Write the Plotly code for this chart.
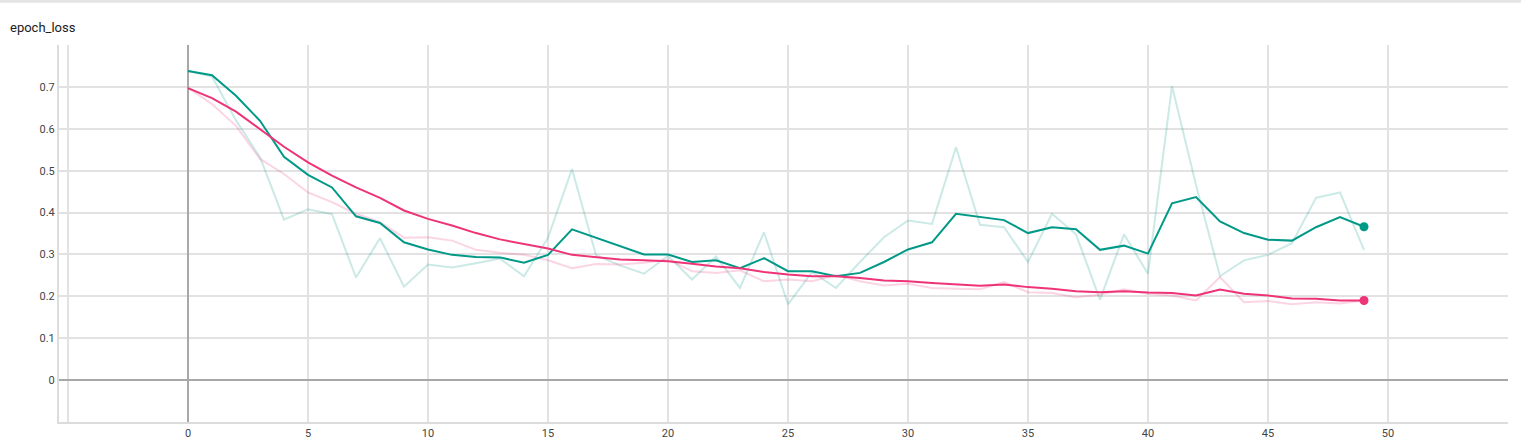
import plotly.graph_objects as go

epochs = list(range(50))

green_raw = [0.738, 0.725, 0.62, 0.532, 0.383, 0.408, 0.396, 0.245, 0.339, 0.223,
             0.276, 0.269, 0.279, 0.290, 0.248, 0.340, 0.504, 0.298, 0.274, 0.254,
             0.297, 0.240, 0.295, 0.220, 0.353, 0.181, 0.258, 0.220, 0.282, 0.341,
             0.381, 0.373, 0.556, 0.371, 0.365, 0.282, 0.397, 0.348, 0.192, 0.348,
             0.254, 0.702, 0.466, 0.248, 0.286, 0.299, 0.327, 0.435, 0.448, 0.311]

green_smooth = [0.738, 0.728, 0.679, 0.619, 0.533, 0.490, 0.460, 0.391, 0.375, 0.329,
                0.312, 0.299, 0.294, 0.293, 0.280, 0.299, 0.360, 0.340, 0.320, 0.300,
                0.300, 0.282, 0.286, 0.267, 0.291, 0.260, 0.260, 0.248, 0.256, 0.282,
                0.312, 0.329, 0.397, 0.389, 0.382, 0.351, 0.365, 0.360, 0.311, 0.321,
                0.302, 0.422, 0.437, 0.379, 0.351, 0.335, 0.333, 0.365, 0.389, 0.366]

pink_raw = [0.698, 0.659, 0.607, 0.528, 0.492, 0.448, 0.425, 0.397, 0.377, 0.340,
            0.341, 0.333, 0.311, 0.304, 0.299, 0.286, 0.267, 0.277, 0.276, 0.280,
            0.288, 0.260, 0.256, 0.262, 0.236, 0.240, 0.236, 0.251, 0.236, 0.226,
            0.230, 0.220, 0.218, 0.217, 0.234, 0.210, 0.208, 0.198, 0.204, 0.217,
            0.206, 0.202, 0.190, 0.246, 0.186, 0.189, 0.181, 0.186, 0.183, 0.190]

pink_smooth = [0.697, 0.673, 0.641, 0.599, 0.557, 0.520, 0.488, 0.460, 0.435, 0.405,
               0.385, 0.369, 0.351, 0.336, 0.325, 0.314, 0.299, 0.293, 0.288, 0.286,
               0.284, 0.278, 0.271, 0.267, 0.258, 0.252, 0.248, 0.248, 0.244, 0.238,
               0.236, 0.232, 0.228, 0.225, 0.228, 0.222, 0.218, 0.212, 0.210, 0.212,
               0.209, 0.208, 0.202, 0.216, 0.206, 0.202, 0.195, 0.194, 0.190, 0.190]

x_tickvals = [-5, 0, 5, 10, 15, 20, 25, 30, 35, 40, 45, 50, 55]
x_ticktext = ["", "0", "5", "10", "15", "20", "25", "30", "35", "40", "45", "50", ""]
y_tickvals = [-0.1, 0, 0.1, 0.2, 0.3, 0.4, 0.5, 0.6, 0.7, 0.8]
y_ticktext = ["", "0", "0.1", "0.2", "0.3", "0.4", "0.5", "0.6", "0.7", ""]

GREEN = "#009988"
PINK = "#ee3377"

fig = go.Figure()
fig.add_trace(go.Scatter(x=epochs, y=green_raw, mode="lines",
                         line=dict(color=GREEN, width=2), opacity=0.2,
                         hoverinfo="skip", showlegend=False))
fig.add_trace(go.Scatter(x=epochs, y=pink_raw, mode="lines",
                         line=dict(color=PINK, width=2), opacity=0.2,
                         hoverinfo="skip", showlegend=False))
fig.add_trace(go.Scatter(x=epochs, y=green_smooth, mode="lines",
                         line=dict(color=GREEN, width=2), showlegend=False))
fig.add_trace(go.Scatter(x=epochs, y=pink_smooth, mode="lines",
                         line=dict(color=PINK, width=2), showlegend=False))
fig.add_trace(go.Scatter(x=[epochs[-1]], y=[green_smooth[-1]], mode="markers",
                         marker=dict(color=GREEN, size=9), showlegend=False))
fig.add_trace(go.Scatter(x=[epochs[-1]], y=[pink_smooth[-1]], mode="markers",
                         marker=dict(color=PINK, size=9), showlegend=False))

# thin header shadow at the very top of the page
fig.add_shape(type="line", xref="paper", yref="paper", x0=-0.05, x1=1.02,
              y0=1.116, y1=1.116, line=dict(color="#e4e4e4", width=3))

fig.update_layout(
    width=1521, height=447,
    margin=dict(l=59, r=13, t=45, b=25, autoexpand=False),
    paper_bgcolor="white", plot_bgcolor="white",
    font=dict(family="Roboto, Arial, sans-serif", size=11, color="#333333"),
    title=dict(text="epoch_loss", x=10 / 1521, xref="container", xanchor="left",
               y=1 - 27 / 447, yref="container", yanchor="middle",
               font=dict(size=13, color="#212121")),
    xaxis=dict(range=[-5.375, 55], tickvals=x_tickvals, ticktext=x_ticktext,
               automargin=False,
               showgrid=True, gridcolor="#e2e2e2", gridwidth=1.5,
               zeroline=True, zerolinecolor="#a8a8a8", zerolinewidth=2,
               showline=True, linecolor="#dcdcdc", linewidth=2,
               ticks="", tickfont=dict(size=11, color="#444444")),
    yaxis=dict(range=[-0.1, 0.8], tickvals=y_tickvals, ticktext=y_ticktext,
               automargin=False,
               showgrid=True, gridcolor="#e2e2e2", gridwidth=1.5,
               zeroline=True, zerolinecolor="#a8a8a8", zerolinewidth=2,
               showline=True, linecolor="#dcdcdc", linewidth=2,
               ticks="", tickfont=dict(size=11, color="#444444")),
)

fig.write_html("out.html",
               config={"displayModeBar": False},
               post_script="document.body.style.margin='0';document.body.style.overflow='hidden';")
